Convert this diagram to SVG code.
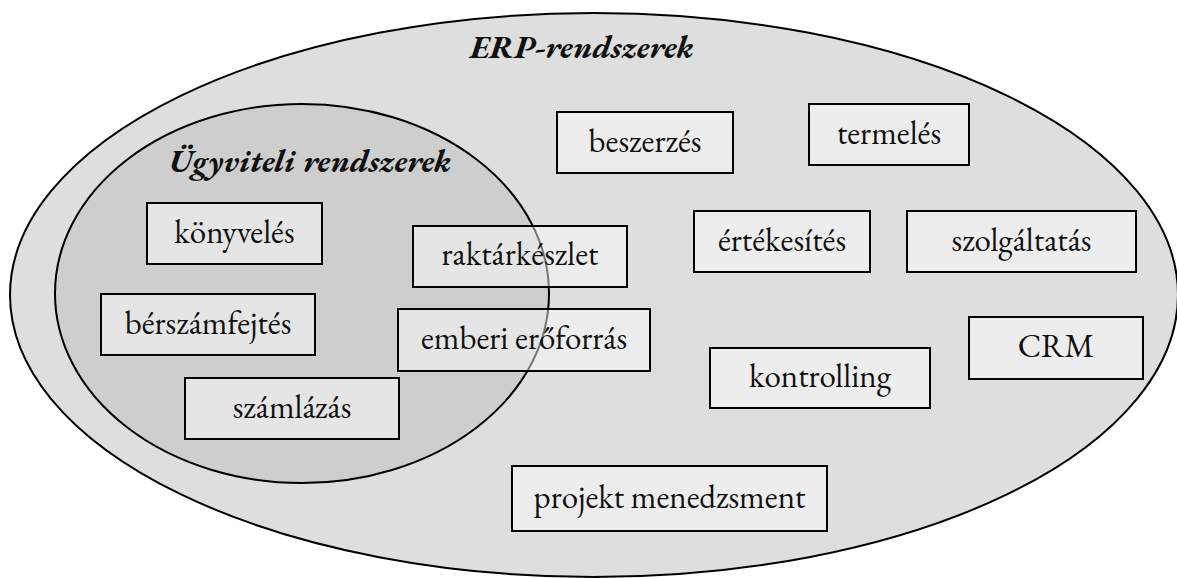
<svg xmlns="http://www.w3.org/2000/svg" width="1177" height="578" viewBox="0 0 1177 578">
  <style>
    .set { stroke: #000; stroke-width: 2; }
    .outer { fill: #dedede; }
    .inner { fill: #cecece; }
    .box { fill: #fff; fill-opacity: 0.47; stroke: #000; stroke-width: 2; }
    .lbl { font-family: "EB Garamond", Garamond, "Liberation Serif", serif; font-size: 33px; fill: #111; text-anchor: middle; }
    .ttl { font-family: "EB Garamond", Garamond, "Liberation Serif", serif; font-size: 33px; font-weight: bold; font-style: italic; fill: #111; text-anchor: middle; }
  </style>
  <rect x="0" y="0" width="1177" height="578" fill="#fff"/>

  <g id="erp">
    <ellipse class="set outer" cx="594" cy="295" rx="584" ry="282"/>
    <text class="ttl" x="582" y="58">ERP-rendszerek</text>
  </g>

  <g id="ugyviteli">
    <ellipse class="set inner" cx="302" cy="293.5" rx="247" ry="189.5"/>
    <text class="ttl" x="310" y="172">Ügyviteli rendszerek</text>
  </g>

  <g id="connectors"></g>

  <g id="konyveles">
    <rect class="box" x="147" y="203" width="175" height="61"/>
    <text class="lbl" x="234.5" y="243">könyvelés</text>
  </g>
  <g id="berszamfejtes">
    <rect class="box" x="101" y="294" width="214" height="61"/>
    <text class="lbl" x="208" y="334">bérszámfejtés</text>
  </g>
  <g id="szamlazas">
    <rect class="box" x="185" y="378" width="214" height="61"/>
    <text class="lbl" x="292" y="418">számlázás</text>
  </g>
  <g id="raktarkeszlet">
    <rect class="box" x="413" y="226" width="214" height="61"/>
    <text class="lbl" x="520" y="265">raktárkészlet</text>
  </g>
  <g id="emberi-eroforras">
    <rect class="box" x="398" y="309" width="252" height="62"/>
    <text class="lbl" x="524" y="349">emberi erőforrás</text>
  </g>
  <g id="beszerzes">
    <rect class="box" x="557" y="112" width="176" height="61"/>
    <text class="lbl" x="645" y="152">beszerzés</text>
  </g>
  <g id="termeles">
    <rect class="box" x="809" y="104" width="160" height="61"/>
    <text class="lbl" x="889" y="144">termelés</text>
  </g>
  <g id="ertekesites">
    <rect class="box" x="694" y="211" width="176" height="61"/>
    <text class="lbl" x="782" y="251">értékesítés</text>
  </g>
  <g id="szolgaltatas">
    <rect class="box" x="907" y="211" width="229" height="61"/>
    <text class="lbl" x="1021.5" y="251">szolgáltatás</text>
  </g>
  <g id="kontrolling">
    <rect class="box" x="710" y="348" width="220" height="60"/>
    <text class="lbl" x="820" y="387">kontrolling</text>
  </g>
  <g id="crm">
    <rect class="box" x="969" y="317" width="174" height="62"/>
    <text class="lbl" x="1056" y="357">CRM</text>
  </g>
  <g id="projekt-menedzsment">
    <rect class="box" x="512" y="466" width="315" height="65"/>
    <text class="lbl" x="669.5" y="508">projekt menedzsment</text>
  </g>
</svg>
